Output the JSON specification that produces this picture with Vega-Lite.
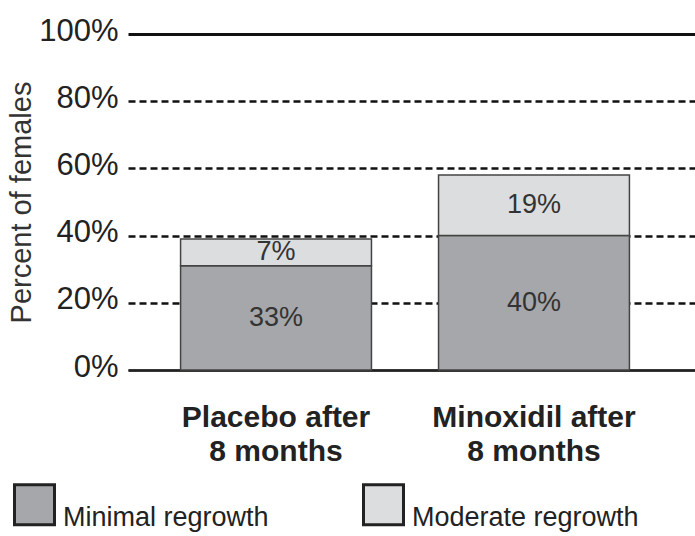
{
  "$schema": "https://vega.github.io/schema/vega-lite/v6.json",
  "width": 567,
  "height": 336,
  "autosize": "none",
  "padding": {"left": 128, "top": 34, "right": 0, "bottom": 166},
  "background": "white",
  "config": {
    "font": "Liberation Sans",
    "view": {"stroke": null}
  },
  "data": {
    "values": [
      {"group": "Placebo after|8 months", "series": "Minimal regrowth", "pct": 31, "label": "33%"},
      {"group": "Placebo after|8 months", "series": "Moderate regrowth", "pct": 8, "label": "7%"},
      {"group": "Minoxidil after|8 months", "series": "Minimal regrowth", "pct": 40, "label": "40%"},
      {"group": "Minoxidil after|8 months", "series": "Moderate regrowth", "pct": 18, "label": "19%"}
    ]
  },
  "layer": [
    {
      "mark": {"type": "bar", "stroke": "#444", "strokeWidth": 1.5},
      "encoding": {
        "x": {
          "field": "group",
          "type": "nominal",
          "sort": ["Placebo after|8 months", "Minoxidil after|8 months"],
          "scale": {"paddingInner": 0.26, "paddingOuter": 0.229, "align": 0.445},
          "axis": {
            "title": null,
            "labelAngle": 0,
            "labelExpr": "split(datum.value, '|')",
            "labelFontSize": 30,
            "labelFontWeight": "bold",
            "labelColor": "#222",
            "labelLineHeight": 34,
            "labelPadding": 32,
            "labelBaseline": "top",
            "labelLimit": 400,
            "ticks": false,
            "domain": true,
            "domainColor": "#222",
            "domainWidth": 2
          }
        },
        "y": {
          "field": "pct",
          "type": "quantitative",
          "stack": "zero",
          "scale": {"domain": [0, 100]},
          "axis": {
            "title": "Percent of females",
            "titleFontSize": 29,
            "titleFontWeight": "normal",
            "titleColor": "#333",
            "titlePadding": 2,
            "values": [0, 20, 40, 60, 80, 100],
            "labelExpr": "datum.value + '%'",
            "labelFontSize": 31,
            "labelColor": "#222",
            "labelPadding": 10,
            "labelOffset": -3,
            "ticks": false,
            "domain": false,
            "grid": true,
            "gridColor": "#111",
            "gridOpacity": 1,
            "gridDash": {"condition": {"test": "datum.value == 100 || datum.value == 0", "value": []}, "value": [7, 4]},
            "gridWidth": {"condition": {"test": "datum.value == 100", "value": 3}, "value": 2.5}
          }
        },
        "order": {"field": "series", "sort": "ascending"},
        "fill": {
          "field": "series",
          "type": "nominal",
          "scale": {"domain": ["Minimal regrowth", "Moderate regrowth"], "range": ["#a5a7aa", "#dcdddf"]},
          "legend": {
            "title": null,
            "orient": "none",
            "legendX": -115,
            "legendY": 449,
            "direction": "horizontal",
            "symbolType": "square",
            "symbolSize": 1600,
            "symbolStrokeColor": "#222",
            "symbolStrokeWidth": 3,
            "symbolOpacity": 1,
            "labelFontSize": 27,
            "labelColor": "#222",
            "labelOffset": 7,
            "labelBaseline": "top",
            "labelLimit": 400,
            "columnPadding": 88,
            "padding": 0
          }
        }
      }
    },
    {
      "transform": [
        {"stack": "pct", "groupby": ["group"], "sort": [{"field": "series"}], "as": ["y0", "y1"]},
        {"calculate": "(datum.y0 + datum.y1) / 2", "as": "mid"}
      ],
      "mark": {"type": "text", "fontSize": 27, "color": "#333"},
      "encoding": {
        "x": {"field": "group", "type": "nominal", "sort": ["Placebo after|8 months", "Minoxidil after|8 months"]},
        "y": {"field": "mid", "type": "quantitative"},
        "text": {"field": "label"}
      }
    }
  ]
}
